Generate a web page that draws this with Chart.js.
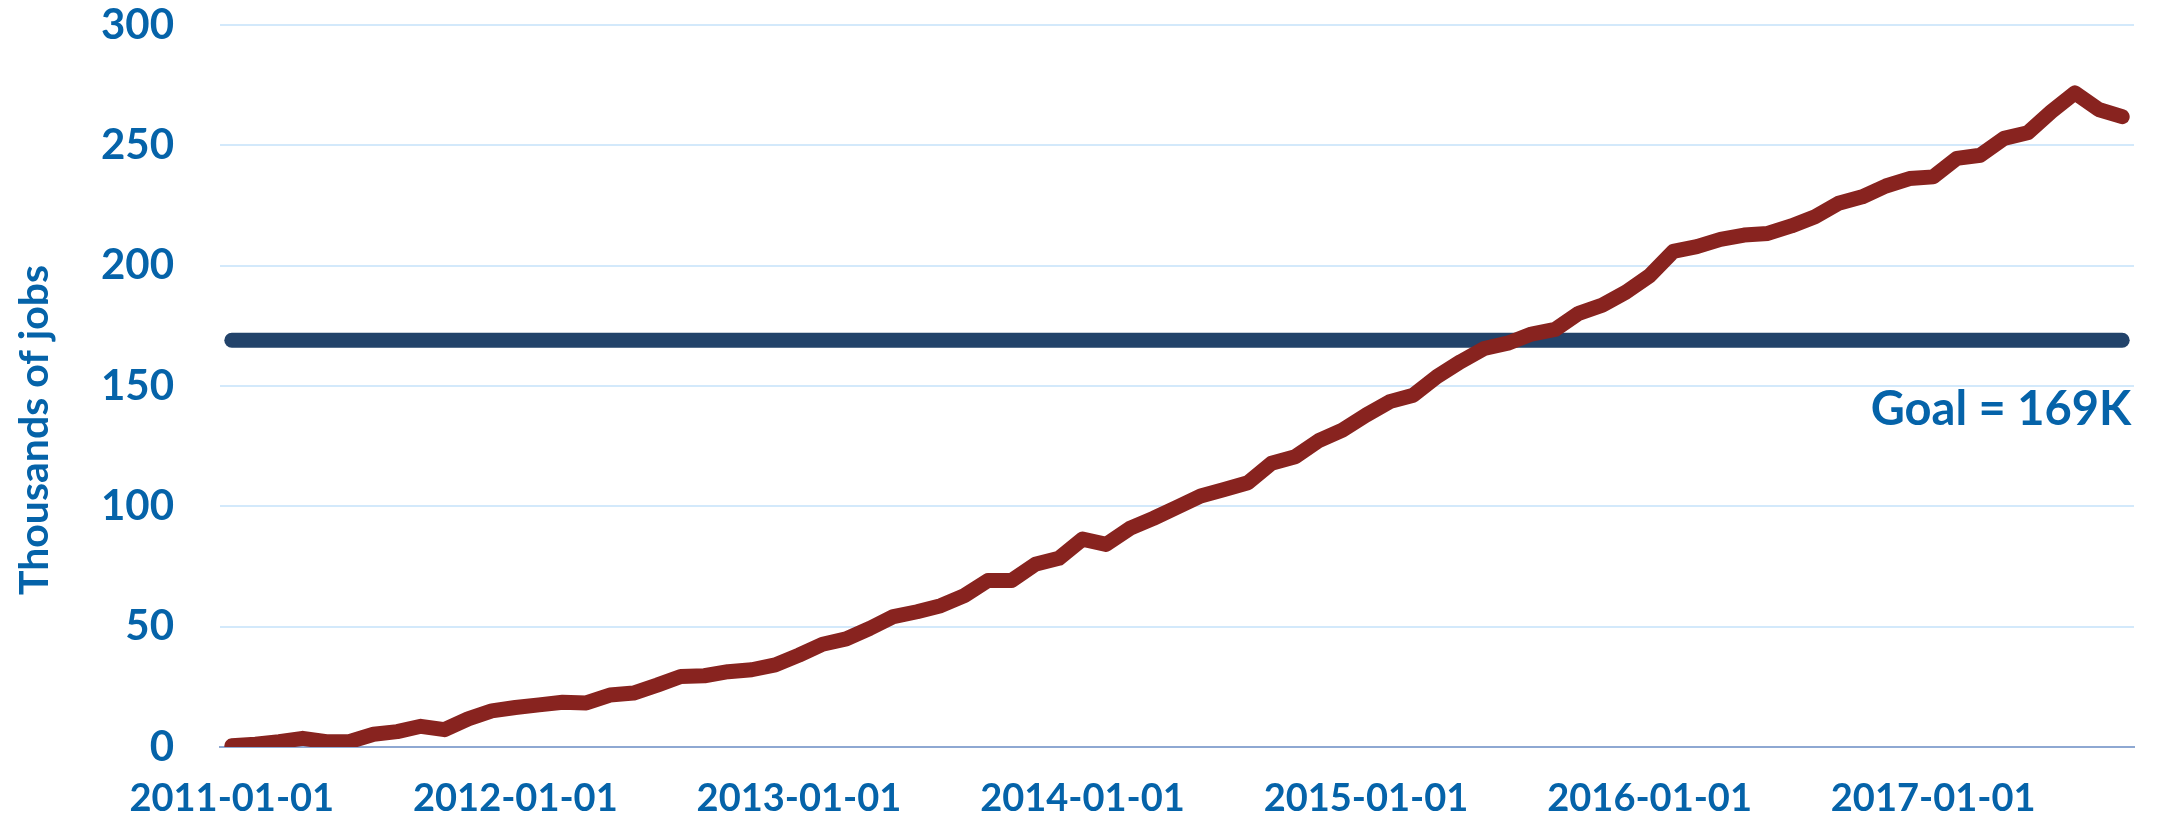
<!DOCTYPE html>
<html>
<head>
<meta charset="utf-8">
<script src="https://cdn.jsdelivr.net/npm/chart.js@4.4.1/dist/chart.umd.min.js"></script>
<style>
  html, body { margin: 0; padding: 0; background: #ffffff; }
  #wrap { width: 2158px; height: 822px; }
</style>
</head>
<body>
<div id="wrap"><canvas id="c" width="2158" height="822"></canvas></div>
<script>
// ---- data ----
const months = [
  '2011-01-01','2011-02-01','2011-03-01','2011-04-01','2011-05-01','2011-06-01','2011-07-01','2011-08-01','2011-09-01','2011-10-01','2011-11-01','2011-12-01',
  '2012-01-01','2012-02-01','2012-03-01','2012-04-01','2012-05-01','2012-06-01','2012-07-01','2012-08-01','2012-09-01','2012-10-01','2012-11-01','2012-12-01',
  '2013-01-01','2013-02-01','2013-03-01','2013-04-01','2013-05-01','2013-06-01','2013-07-01','2013-08-01','2013-09-01','2013-10-01','2013-11-01','2013-12-01',
  '2014-01-01','2014-02-01','2014-03-01','2014-04-01','2014-05-01','2014-06-01','2014-07-01','2014-08-01','2014-09-01','2014-10-01','2014-11-01','2014-12-01',
  '2015-01-01','2015-02-01','2015-03-01','2015-04-01','2015-05-01','2015-06-01','2015-07-01','2015-08-01','2015-09-01','2015-10-01','2015-11-01','2015-12-01',
  '2016-01-01','2016-02-01','2016-03-01','2016-04-01','2016-05-01','2016-06-01','2016-07-01','2016-08-01','2016-09-01','2016-10-01','2016-11-01','2016-12-01',
  '2017-01-01','2017-02-01','2017-03-01','2017-04-01','2017-05-01','2017-06-01','2017-07-01','2017-08-01','2017-09-01'
];
const jobs = [
  0.5, 1.2, 2.2, 3.6, 2.2, 2.3, 5.3, 6.4, 8.6, 7.2, 11.7, 15,
  16.4, 17.5, 18.6, 18.3, 21.6, 22.4, 25.7, 29.3, 29.6, 31.3, 32.1, 34.1,
  38.2, 42.7, 44.9, 49.3, 54.2, 56.2, 58.7, 62.9, 69.2, 69.2, 75.9, 78.4,
  86.4, 84.2, 90.8, 95, 99.6, 104.3, 107, 109.8, 117.9, 120.6, 127.3, 131.7,
  137.9, 143.5, 146.2, 153.9, 160.1, 165.6, 167.8, 171.6, 173.5, 180.2, 183.6, 189,
  195.8, 205.9, 207.9, 210.9, 212.7, 213.4, 216.5, 220.3, 225.9, 228.6, 233.1, 236.2,
  236.9, 244.6, 245.9, 252.9, 255.2, 264, 271.8, 264.9, 261.9
];
const goalValue = 169;
const xTickLabels = ['2011-01-01','2012-01-01','2013-01-01','2014-01-01','2015-01-01','2016-01-01','2017-01-01'];
const yTicks = [0, 50, 100, 150, 200, 250, 300];
const yTitle = 'Thousands of jobs';
const goalText = 'Goal = ' + goalValue + 'K';

// ---- style ----
const BLUE = '#0563A9';
const FONT = 'Lato, "Open Sans", sans-serif';

const textPlugin = {
  id: 'extraText',
  afterDatasetsDraw(chart) {
    const x = chart.scales.x, y = chart.scales.y, ctx = chart.ctx, a = chart.chartArea;
    // goal label
    const px = x.getPixelForValue(months.length - 1) + 9;
    const py = y.getPixelForValue(goalValue) + 46;
    ctx.save();
    ctx.fillStyle = BLUE;
    ctx.font = 'bold 47px ' + FONT;
    ctx.textAlign = 'right';
    ctx.textBaseline = 'top';
    ctx.fillText(goalText, px, py);
    ctx.restore();
    // y axis title
    ctx.save();
    ctx.fillStyle = BLUE;
    ctx.font = 'bold 41px ' + FONT;
    ctx.textAlign = 'center';
    ctx.textBaseline = 'middle';
    ctx.translate(35, (a.top + a.bottom) / 2 + 44);
    ctx.rotate(-Math.PI / 2);
    ctx.fillText(yTitle, 0, 0);
    ctx.restore();
  }
};

new Chart(document.getElementById('c'), {
  type: 'line',
  data: {
    labels: months,
    datasets: [
      {
        label: 'Jobs',
        data: jobs,
        borderColor: '#88231F',
        borderWidth: 15,
        pointRadius: 0,
        borderCapStyle: 'round',
        borderJoinStyle: 'round',
        tension: 0,
        fill: false,
        order: 1
      },
      {
        label: 'Goal',
        data: [{ x: months[0], y: goalValue }, { x: months[months.length - 1], y: goalValue }],
        borderColor: '#22436A',
        borderWidth: 15,
        pointRadius: 0,
        borderCapStyle: 'round',
        fill: false,
        order: 2
      }
    ]
  },
  options: {
    responsive: false,
    animation: false,
    devicePixelRatio: 1,
    layout: { padding: { left: 0, right: 24, top: 25, bottom: 0 } },
    plugins: { legend: { display: false }, tooltip: { enabled: false } },
    scales: {
      x: {
        type: 'category',
        offset: true,
        grid: { display: false, drawTicks: false },
        border: { display: true, color: '#8EA8D2', width: 2 },
        ticks: {
          autoSkip: false,
          maxRotation: 0,
          minRotation: 0,
          padding: 29,
          color: BLUE,
          font: { family: FONT, weight: 'bold', size: 38 },
          callback: function (v) {
            const l = this.getLabelForValue(v);
            return xTickLabels.includes(l) ? l : '';
          }
        },
        afterFit(s) { s.height = 75; }
      },
      y: {
        min: 0,
        max: 300,
        afterBuildTicks(s) { s.ticks = yTicks.map(v => ({ value: v })); },
        ticks: {
          padding: 46,
          color: BLUE,
          font: { family: FONT, weight: 'bold', size: 42 }
        },
        grid: { color: '#D3E9FB', lineWidth: 2, drawTicks: false },
        border: { display: false },
        title: { display: false },
        afterFit(s) { s.width = 220; s.paddingTop = 0; s.paddingBottom = 0; }
      }
    }
  },
  plugins: [textPlugin]
});
</script>
</body>
</html>
